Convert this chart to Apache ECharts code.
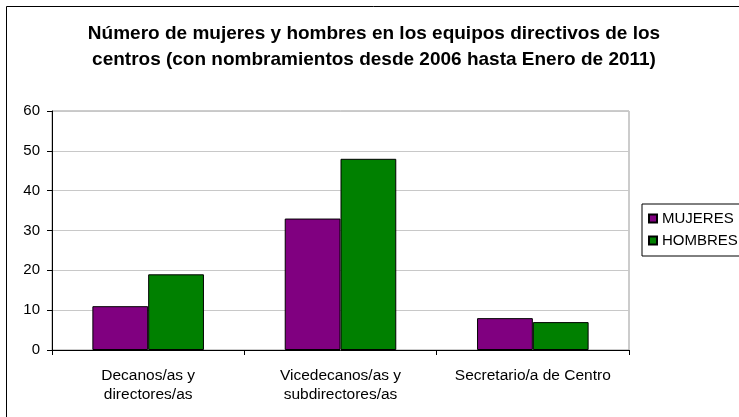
<!DOCTYPE html>
<html><head><meta charset="utf-8">
<script src="https://cdn.jsdelivr.net/npm/echarts@6/dist/echarts.min.js"></script>
<style>html,body{margin:0;padding:0;background:#fff}#c{width:739px;height:417px}</style>
</head><body><div id="c"></div>
<script>
var categories = ['Decanos/as y\ndirectores/as', 'Vicedecanos/as y\nsubdirectores/as', 'Secretario/a de Centro'];
var mujeres = [11, 33, 8];
var hombres = [19, 48, 7];
var yTicks = [0, 10, 20, 30, 40, 50, 60];
var titleText = 'Número de mujeres y hombres en los equipos directivos de los\ncentros (con nombramientos desde 2006 hasta Enero de 2011)';

var font = '"Liberation Sans", Arial, sans-serif';
var chart = echarts.init(document.getElementById('c'), null, {renderer: 'canvas'});
chart.setOption({
  animation: false,
  textStyle: {fontFamily: font},
  graphic: [{
    type: 'rect', left: 6, top: 6, z: -1,
    shape: {width: 760, height: 440},
    style: {fill: '#fff', stroke: '#000', lineWidth: 1}
  }],
  title: {
    text: titleText, left: 369, top: 16, textAlign: 'center',
    textStyle: {fontFamily: font, fontSize: 19, fontWeight: 'bold', color: '#000', lineHeight: 26}
  },
  legend: {
    orient: 'vertical', left: 642, top: 204,
    itemWidth: 8, itemHeight: 8, itemGap: 7,
    padding: [7, 20, 8, 6],
    borderColor: '#000', borderWidth: 1,
    icon: 'rect',
    textStyle: {fontFamily: font, fontSize: 15, color: '#000'},
    data: ['MUJERES', 'HOMBRES']
  },
  grid: {left: 52, right: 110, top: 111, bottom: 67, show: true, borderColor: '#999', borderWidth: 1},
  xAxis: {
    type: 'category', data: categories,
    axisLine: {lineStyle: {color: '#000'}},
    axisTick: {show: true, length: 5, lineStyle: {color: '#000'}},
    axisLabel: {fontFamily: font, fontSize: 15.5, color: '#000', lineHeight: 19, margin: 16, interval: 0}
  },
  yAxis: {
    type: 'value', min: 0, max: 60, interval: 10,
    axisLine: {show: true, lineStyle: {color: '#000'}},
    axisTick: {show: true, inside: false, length: 5, lineStyle: {color: '#000'}},
    axisLabel: {fontFamily: font, fontSize: 15, color: '#000', margin: 12,
      formatter: function (v) { return yTicks.indexOf(v) >= 0 ? String(v) : ''; }},
    splitLine: {lineStyle: {color: '#c8c8c8'}}
  },
  series: [
    {name: 'MUJERES', type: 'bar', data: mujeres, barGap: '0%', barCategoryGap: '42%',
     itemStyle: {color: '#800080', borderColor: '#000', borderWidth: 1}},
    {name: 'HOMBRES', type: 'bar', data: hombres, barGap: '0%', barCategoryGap: '42%',
     itemStyle: {color: '#008000', borderColor: '#000', borderWidth: 1}}
  ]
});
</script></body></html>
